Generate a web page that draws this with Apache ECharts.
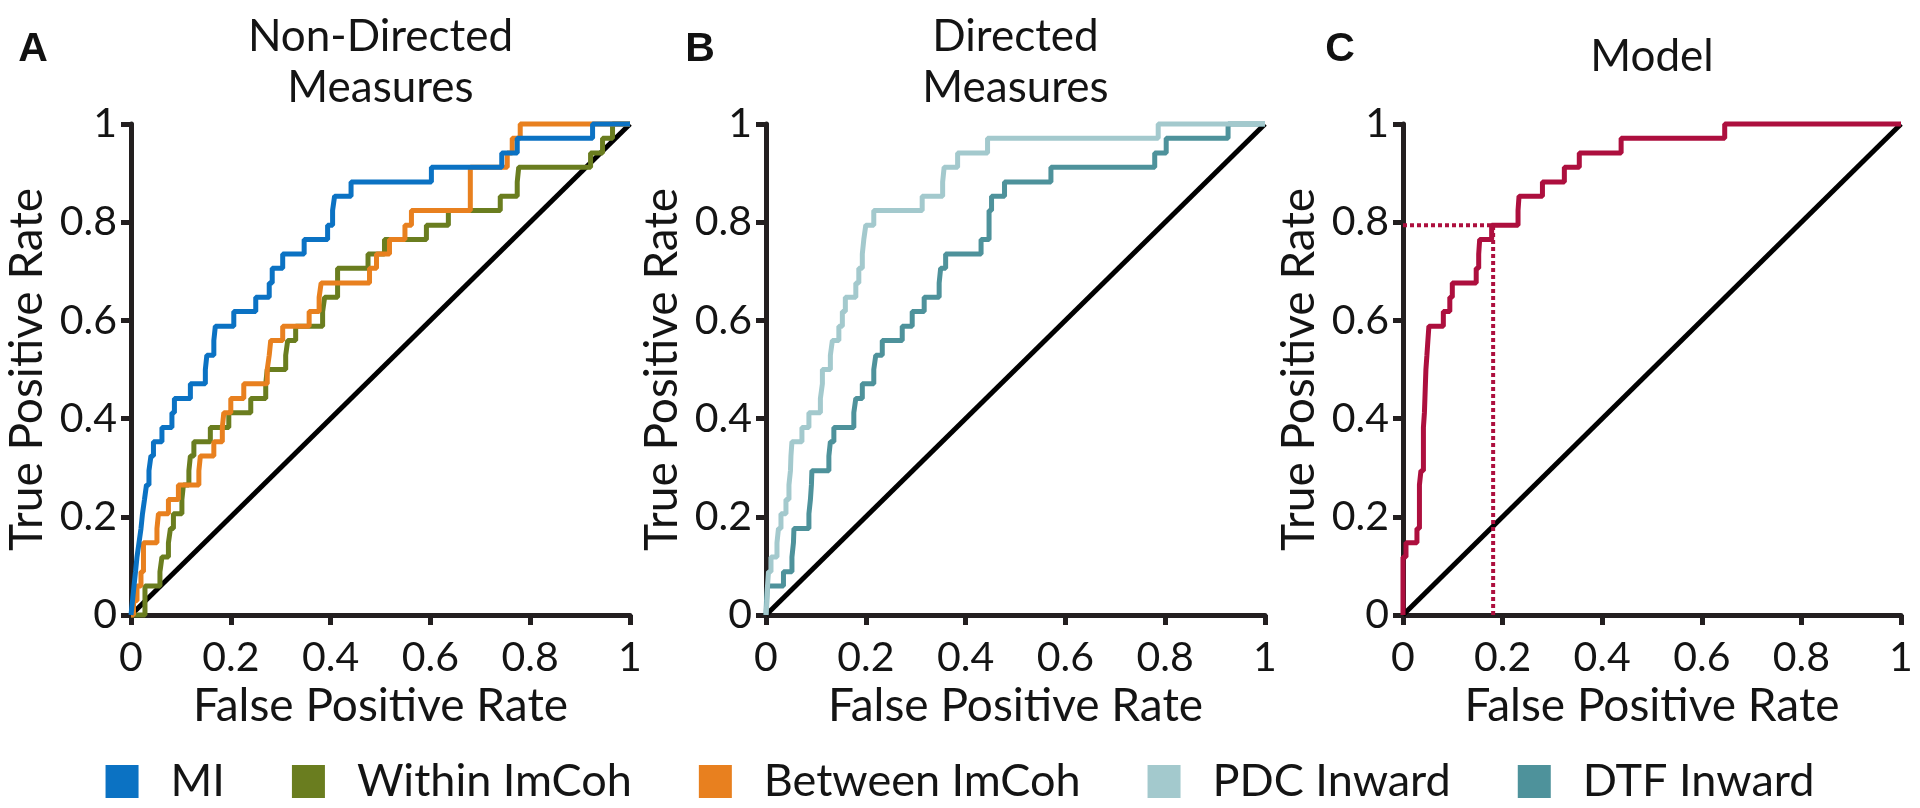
<!DOCTYPE html>
<html>
<head>
<meta charset="utf-8">
<script src="https://cdn.jsdelivr.net/npm/echarts@6/dist/echarts.min.js"></script>
<style>
html, body { margin: 0; padding: 0; background: #fff; }
#main { width: 1920px; height: 808px; }
</style>
</head>
<body>
<div id="main"></div>
<script>
// tick labels shared by every axis
var tickLabels = ['0', '0.2', '0.4', '0.6', '0.8', '1'];

// true positive rate levels of the ROC staircases (34 positives)
var tprLevels = [0, 0.029, 0.059, 0.088, 0.118, 0.147, 0.176, 0.206, 0.235, 0.265, 0.294, 0.324,
    0.353, 0.382, 0.412, 0.441, 0.471, 0.5, 0.529, 0.559, 0.588, 0.618, 0.647, 0.676, 0.706,
    0.735, 0.765, 0.794, 0.824, 0.853, 0.882, 0.912, 0.941, 0.971, 1];

// false positive rate where each tpr level ends (one value per level above)
var miFpr = [0.003, 0.006, 0.009, 0.012, 0.016, 0.02, 0.023, 0.027, 0.031, 0.036, 0.04, 0.045,
    0.062, 0.082, 0.087, 0.119, 0.149, 0.152, 0.166, 0.169, 0.206, 0.25, 0.277, 0.283, 0.304,
    0.347, 0.394, 0.404, 0.408, 0.441, 0.602, 0.743, 0.774, 0.925, 1];
var withinFpr = [0.028, 0.028, 0.058, 0.062, 0.075, 0.079, 0.085, 0.102, 0.105, 0.116, 0.119, 0.126,
    0.159, 0.196, 0.24, 0.27, 0.273, 0.31, 0.314, 0.33, 0.384, 0.388, 0.414, 0.414, 0.475,
    0.508, 0.592, 0.636, 0.74, 0.774, 0.777, 0.921, 0.945, 0.965, 1];
var betweenFpr = [0.005, 0.012, 0.02, 0.025, 0.025, 0.052, 0.055, 0.075, 0.095, 0.136, 0.139, 0.166,
    0.183, 0.186, 0.2, 0.226, 0.273, 0.277, 0.28, 0.304, 0.357, 0.377, 0.381, 0.478, 0.492,
    0.518, 0.549, 0.562, 0.68, 0.68, 0.68, 0.754, 0.764, 0.78, 1];
var pdcFpr = [0.002, 0.003, 0.005, 0.01, 0.022, 0.025, 0.03, 0.04, 0.046, 0.049, 0.05, 0.052,
    0.072, 0.086, 0.109, 0.113, 0.113, 0.129, 0.133, 0.146, 0.153, 0.159, 0.18, 0.186, 0.193,
    0.196, 0.2, 0.216, 0.313, 0.354, 0.357, 0.384, 0.444, 0.786, 1];
var dtfFpr = [0.001, 0.003, 0.035, 0.052, 0.055, 0.056, 0.086, 0.089, 0.091, 0.092, 0.126, 0.129,
    0.136, 0.176, 0.18, 0.193, 0.216, 0.22, 0.233, 0.273, 0.293, 0.317, 0.347, 0.35, 0.36,
    0.431, 0.447, 0.447, 0.452, 0.478, 0.571, 0.779, 0.802, 0.926, 1];
var modelFpr = [0, 0, 0, 0, 0.006, 0.028, 0.033, 0.033, 0.033, 0.036, 0.041, 0.041,
    0.041, 0.043, 0.044, 0.045, 0.046, 0.048, 0.05, 0.052, 0.081, 0.094, 0.099, 0.147, 0.152,
    0.154, 0.178, 0.231, 0.233, 0.28, 0.324, 0.354, 0.438, 0.646, 1];

// chance diagonal and the model's operating point [fpr, tpr]
var chanceFpr = [0, 1];
var chanceTpr = [0, 1];
var operatingPoint = [0.181, 0.794];

var legendNames = ['MI', 'Within ImCoh', 'Between ImCoh', 'PDC Inward', 'DTF Inward'];
var panelTitles = ['Non-Directed\nMeasures', 'Directed\nMeasures', 'Model'];
var panelLetters = ['A', 'B', 'C'];

var colors = {
    'MI': '#0b72c3',
    'Within ImCoh': '#6a7d1f',
    'Between ImCoh': '#e8801f',
    'PDC Inward': '#a3c9cd',
    'DTF Inward': '#4e929b',
    'Model': '#ad0f3e'
};
var axisColor = '#231f20';
var textColor = '#141414';
var font = 'Lato';

var grids = [
    {left: 131, top: 124, width: 499, height: 491},
    {left: 766, top: 124, width: 499, height: 491},
    {left: 1403, top: 124, width: 498, height: 491}
];

function rocData(fpr) {
    var d = [[0, 0]];
    fpr.forEach(function (x, i) { d.push([x, tprLevels[i]]); });
    return d;
}

function tickFmt(v) { return tickLabels[Math.round(v * 5)]; }

function axis(i, isX) {
    return {
        gridIndex: i, type: 'value', min: 0, max: 1, interval: 0.2,
        name: isX ? 'False Positive Rate' : 'True Positive Rate',
        nameLocation: 'middle', nameGap: isX ? 66 : 81,
        nameTextStyle: {fontFamily: font, fontSize: 46, color: textColor},
        axisLine: {onZero: false, lineStyle: {color: axisColor, width: 5}},
        axisTick: {length: 10, lineStyle: {color: axisColor, width: 5}},
        axisLabel: {margin: isX ? 22 : 14, fontFamily: font, fontSize: 41, color: textColor, formatter: tickFmt},
        splitLine: {show: false}
    };
}

function rocLine(name, fpr, gi) {
    return {
        name: name, type: 'line', xAxisIndex: gi, yAxisIndex: gi, step: 'start',
        data: rocData(fpr), symbol: 'none', clip: false, z: 3,
        lineStyle: {color: colors[name], width: 5}, itemStyle: {color: colors[name]}
    };
}

function chance(gi) {
    return {
        type: 'line', xAxisIndex: gi, yAxisIndex: gi, symbol: 'none', clip: false, z: 2,
        data: chanceFpr.map(function (x, i) { return [x, chanceTpr[i]]; }),
        lineStyle: {color: '#000', width: 5}
    };
}

function dotted(data) {
    return {
        type: 'line', xAxisIndex: 2, yAxisIndex: 2, symbol: 'none', clip: false, z: 2,
        data: data, lineStyle: {color: colors['Model'], width: 4, type: [4, 3]}
    };
}

var xAxes = [], yAxes = [], graphics = [];
var titleY = [62, 62, 57];
grids.forEach(function (g, i) {
    xAxes.push(axis(i, true));
    yAxes.push(axis(i, false));
    graphics.push({
        type: 'text', x: g.left + g.width / 2, y: titleY[i],
        style: {text: panelTitles[i], fill: textColor, font: '44px Lato', lineHeight: 51,
            align: 'center', verticalAlign: 'middle'}
    });
});
var letterX = [33, 700, 1340];
panelLetters.forEach(function (t, i) {
    graphics.push({
        type: 'text', x: letterX[i], y: 50,
        style: {text: t, fill: '#111', font: 'bold 41px "Liberation Sans"', align: 'center', verticalAlign: 'middle'}
    });
});

var chart = echarts.init(document.getElementById('main'));
chart.setOption({
    animation: false,
    backgroundColor: '#fff',
    grid: grids,
    xAxis: xAxes,
    yAxis: yAxes,
    graphic: graphics,
    legend: {
        data: legendNames, left: 'center', top: 754, icon: 'rect',
        itemWidth: 33, itemHeight: 33, itemGap: 67, selectedMode: false,
        itemStyle: {borderWidth: 0},
        textStyle: {fontFamily: font, fontSize: 45, color: textColor, padding: [0, 0, 0, 27]}
    },
    series: [
        chance(0), chance(1), chance(2),
        rocLine('Within ImCoh', withinFpr, 0),
        rocLine('Between ImCoh', betweenFpr, 0),
        rocLine('MI', miFpr, 0),
        rocLine('DTF Inward', dtfFpr, 1),
        rocLine('PDC Inward', pdcFpr, 1),
        dotted([[0, operatingPoint[1]], [operatingPoint[0], operatingPoint[1]]]),
        dotted([[operatingPoint[0], 0], [operatingPoint[0], operatingPoint[1]]]),
        rocLine('Model', modelFpr, 2)
    ]
});
</script>
</body>
</html>
